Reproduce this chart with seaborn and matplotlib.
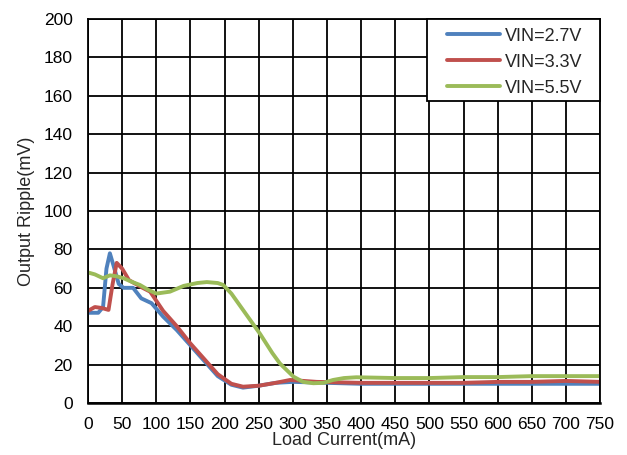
import pandas as pd
import seaborn as sns
import numpy as np
import matplotlib.pyplot as plt
from matplotlib.patches import Rectangle

# values
x_27 = [0, 5, 15, 22, 27, 32, 37, 45, 52, 66, 78, 93, 110, 130, 150, 170, 190, 210, 227, 250, 275, 300, 350, 400, 450, 500, 550, 600, 650, 700, 750]
y_27 = [47, 47, 47, 50, 70, 78, 72, 62, 60, 60, 54.5, 52, 45, 38, 30, 22, 14, 9.5, 8, 9, 10.5, 11, 10.5, 10, 10, 10, 10, 10, 10, 10, 10]

x_33 = [0, 10, 20, 30, 36, 42, 50, 60, 70, 80, 91, 110, 130, 150, 170, 190, 210, 227, 250, 275, 296, 335, 400, 450, 500, 550, 600, 650, 700, 750]
y_33 = [48, 50, 49.5, 48.5, 62, 73, 70, 64, 62, 60, 58, 48, 40, 31, 23, 15, 10, 8.5, 9, 10.5, 12, 11, 10.5, 10.5, 10.5, 10.5, 11, 11, 11.5, 11]

x_55 = [0, 10, 22, 32, 42, 52, 65, 76, 88, 100, 120, 140, 160, 174, 190, 198, 210, 230, 252, 270, 281, 301, 315, 330, 345, 359, 375, 393, 450, 500, 550, 600, 650, 700, 750]
y_55 = [68, 67, 65, 66.5, 66, 65, 63, 61.5, 59, 57, 58, 61, 62.5, 63, 62.5, 61.5, 57, 47, 36, 26, 20.6, 13.7, 11, 10.3, 10.5, 12, 13, 13.4, 13, 13, 13.5, 13.5, 14, 14, 14]

series_names = ['VIN=2.7V', 'VIN=3.3V', 'VIN=5.5V']
series_colors = ['#4F81BD', '#C0504D', '#9BBB59']
x_ticks = list(range(0, 751, 50))
y_ticks = list(range(0, 201, 20))

df = pd.concat([
    pd.DataFrame({'current': x_27, 'ripple': y_27, 'vin': series_names[0]}),
    pd.DataFrame({'current': x_33, 'ripple': y_33, 'vin': series_names[1]}),
    pd.DataFrame({'current': x_55, 'ripple': y_55, 'vin': series_names[2]}),
])

sns.set_style('white')
plt.rcParams['font.family'] = ['Liberation Sans', 'DejaVu Sans']

fig = plt.figure(figsize=(6.27, 4.55), dpi=100)
ax = fig.add_axes([0.1404, 0.1143, 0.8166, 0.8437])

sns.lineplot(data=df, x='current', y='ripple', hue='vin', hue_order=series_names,
             palette=series_colors, estimator=None, linewidth=2.8, ax=ax)

ax.set_xlim(0, 750)
ax.set_ylim(0, 200)
ax.set_xticks(x_ticks)
ax.set_yticks(y_ticks)
ax.grid(True, color='black', linewidth=1.3)
ax.set_axisbelow(True)
for s in ax.spines.values():
    s.set_color('black')
    s.set_linewidth(1.3)
ax.spines['bottom'].set_linewidth(1.8)
ax.tick_params(axis='both', length=0, labelsize=12.5, colors='black')
ax.tick_params(axis='x', pad=10)
ax.tick_params(axis='y', pad=11)
ax.set_xlabel('Load Current(mA)', fontsize=13, labelpad=0)
ax.set_ylabel('Output Ripple(mV)', fontsize=13, labelpad=6)

# legend box drawn by hand, the entries placed inside it
ax.add_patch(Rectangle((0.662, 0.786), 0.338, 0.214, transform=ax.transAxes,
                       facecolor='white', edgecolor='black', linewidth=1.3,
                       zorder=5, clip_on=False))
leg = ax.legend(loc='upper left', bbox_to_anchor=(0.701, 0.978), fontsize=13,
                frameon=False, handlelength=2.95, handletextpad=0.28,
                borderpad=0, borderaxespad=0, labelspacing=0.5)
leg.set_zorder(6)
for line in leg.get_lines():
    line.set_linewidth(2.8)

fig.savefig('out.png', dpi=100)
